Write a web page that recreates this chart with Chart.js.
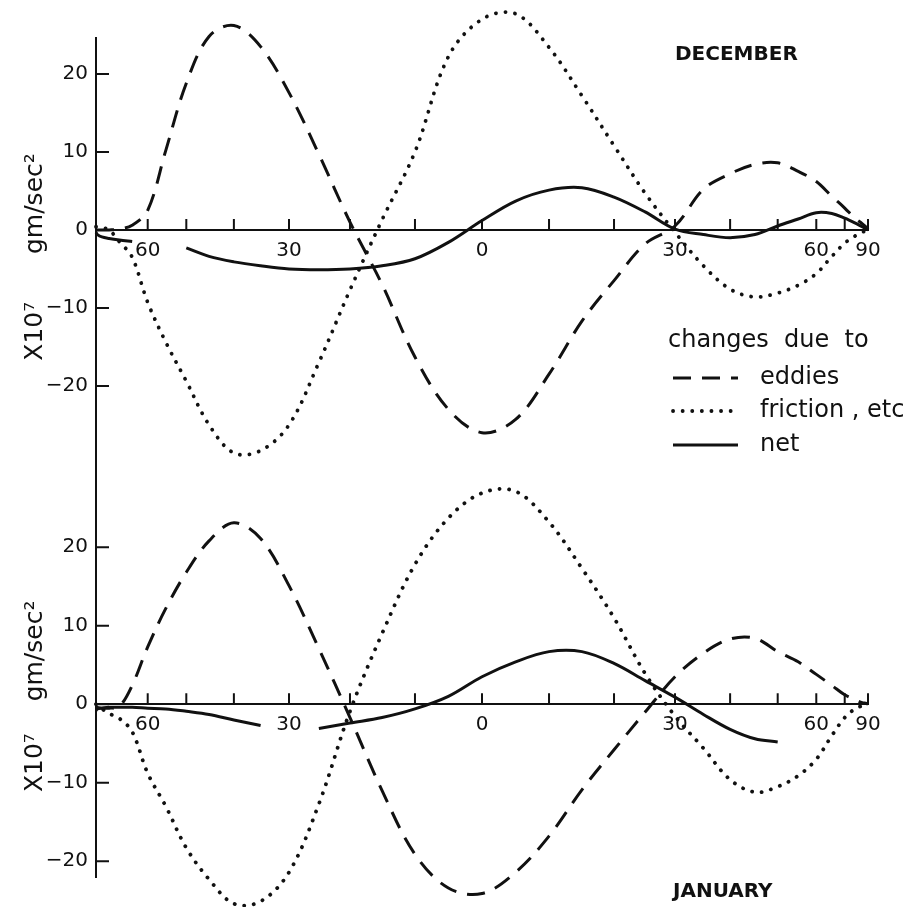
<!DOCTYPE html>
<html>
<head>
<meta charset="utf-8">
<script src="https://cdn.jsdelivr.net/npm/chart.js@4.4.1/dist/chart.umd.min.js"></script>
<style>
  body { margin: 0; background: #fff; }
  #wrap { position: relative; width: 915px; height: 907px; }
  canvas { position: absolute; left: 0; top: 0; }
</style>
</head>
<body>
<div id="wrap">
  <canvas id="decChart" width="915" height="907"></canvas>
  <canvas id="janChart" width="915" height="907"></canvas>
</div>
<script>
// latitude (deg), south negative
const lats = [-90,-85,-80,-75,-70,-65,-60,-55,-50,-45,-40,-35,-30,-25,-20,-15,-10,-5,0,
              5,10,15,20,25,30,35,40,45,50,55,60,65,70,75,80,85,90];

// December, x10^7 gm/sec^2
const decEddies = [0,0,0,0,0.1,0.6,2.5,10.2,18.8,24.8,26.2,23.5,17.6,9.7,1.0,-7,-16.3,-23,-26,
                   -24.3,-18.5,-11.7,-6.5,-1.8,0.5,5.2,7.2,8.4,8.6,7.5,6.2,4.3,2.8,1.5,0.8,0.3,0];
const decFriction = [0.4,0.4,0.3,0,-1.5,-3.5,-9.3,-14.4,-19.4,-25,-28.6,-28.3,-25,-17,-7.7,1.3,10,22.2,27,
                     27.7,23.4,17.2,10.8,4.7,-0.3,-4.6,-7.6,-8.6,-8.1,-7.1,-5.6,-3.4,-1.7,-0.8,-0.3,-0.1,0];
const decNet = [-0.3,-0.6,-0.9,-1.1,-1.3,-1.5,null,null,-2.3,-3.4,-4.1,-4.6,-5,-5.1,-5,-4.6,-3.7,-1.6,1.2,
                3.7,5.1,5.4,4.2,2.3,0.1,-0.6,-1.0,-0.6,0.5,1.4,2.2,2.1,1.5,0.9,0.4,0.1,0];

// January
const janEddies = [-0.3,-0.4,-0.5,-0.5,-0.3,2.4,7.3,12.2,16.8,20.8,23.1,21.1,15.1,7.1,-1.7,-11,-19.1,-23.4,-24.1,
                   -21.4,-16.8,-10.9,-5.8,-1,3.5,6.5,8.3,8.4,6.7,5.4,3.8,2.4,1.2,0.6,0.2,0.1,0];
const janFriction = [0,-0.3,-0.6,-1.2,-1.8,-3.5,-8.8,-13,-18.3,-22.3,-25.4,-25.1,-21.4,-12.7,-0.9,9,17.8,23.7,26.9,
                     27.1,23.2,17.3,11,3.9,-1.5,-5.6,-9.6,-11.2,-10.5,-9.1,-7,-4,-1.7,-0.6,-0.2,-0.1,0];
const janNet = [-0.8,-0.6,-0.5,-0.4,-0.4,-0.4,-0.5,-0.6,-0.9,-1.3,-2.0,-2.7,null,-3.1,-2.4,-1.7,-0.6,1.0,3.5,
                5.4,6.7,6.7,5.2,3.0,0.9,-1.3,-3.2,-4.4,-4.8,null,null,null,null,null,null,null,null];

const xTickLats = [-90,-60,-50,-40,-30,-20,-10,0,10,20,30,40,50,60,70,90];
const xLabelLats = [-60,-30,0,30,60,90];
const yTicks = [-20,-10,0,10,20];
const seriesNames = ["eddies", "friction , etc", "net"];

const ink = "#111";
Chart.defaults.font.family = "'DejaVu Sans', sans-serif";
Chart.defaults.color = ink;

// area-weighted axis: x is sin(latitude)
const toSin = l => Math.sin(l * Math.PI / 180);
const pts = arr => lats.map((l, i) => ({ x: toSin(l), y: arr[i] }));

const tickMarks = {
  id: "tickMarks",
  afterDraw(chart) {
    const { ctx, scales: { x, y } } = chart;
    const y0 = y.getPixelForValue(0);
    ctx.save();
    ctx.strokeStyle = ink;
    ctx.lineWidth = 2;
    ctx.beginPath();
    xTickLats.forEach(l => {
      if (l === -90) return;
      const px = x.getPixelForValue(toSin(l));
      ctx.moveTo(px, y0);
      ctx.lineTo(px, y0 - 11);
    });
    yTicks.forEach(v => {
      const py = y.getPixelForValue(v);
      ctx.moveTo(x.left, py);
      ctx.lineTo(x.left + 13, py);
    });
    ctx.stroke();
    ctx.restore();
  }
};

const panelLabel = {
  id: "panelLabel",
  afterDraw(chart, args, opts) {
    const ctx = chart.ctx;
    ctx.save();
    ctx.fillStyle = ink;
    ctx.font = "bold 20px 'DejaVu Sans'";
    ctx.textBaseline = "middle";
    ctx.fillText(opts.text, opts.x, opts.y);
    ctx.restore();
  }
};

const sideLegend = {
  id: "sideLegend",
  afterDraw(chart, args, opts) {
    if (!opts.show) return;
    const ctx = chart.ctx;
    ctx.save();
    ctx.fillStyle = ink;
    ctx.strokeStyle = ink;
    ctx.textBaseline = "middle";
    ctx.font = "24px 'DejaVu Sans'";
    ctx.fillText("changes  due  to", 668, 341);
    const rows = [378, 411, 445];
    chart.data.datasets.forEach((ds, i) => {
      const yy = rows[i];
      ctx.beginPath();
      ctx.lineWidth = ds.borderWidth;
      ctx.lineCap = ds.borderCapStyle || "butt";
      ctx.setLineDash(ds.borderDash || []);
      ctx.moveTo(673, yy);
      ctx.lineTo(738, yy);
      ctx.stroke();
      ctx.setLineDash([]);
      ctx.fillText(ds.label, 760, yy);
    });
    ctx.restore();
  }
};

function makeDatasets(e, f, n) {
  return [
    { label: seriesNames[0], data: pts(e), borderColor: ink, borderWidth: 3,
      borderDash: [18, 11], borderCapStyle: "butt" },
    { label: seriesNames[1], data: pts(f), borderColor: ink, borderWidth: 3.8,
      borderDash: [0.1, 9.5], borderCapStyle: "round" },
    { label: seriesNames[2], data: pts(n), borderColor: ink, borderWidth: 3 }
  ];
}

function makeChart(id, datasets, cfg) {
  return new Chart(document.getElementById(id), {
    type: "line",
    data: { datasets },
    options: {
      responsive: false,
      animation: false,
      layout: { padding: { left: 0, right: 47, top: cfg.top, bottom: cfg.bottom } },
      elements: { point: { radius: 0 }, line: { tension: 0.35 } },
      datasets: { line: { clip: false, fill: false } },
      plugins: {
        legend: { display: false },
        tooltip: { enabled: false },
        panelLabel: cfg.label,
        sideLegend: { show: cfg.legend }
      },
      scales: {
        x: {
          type: "linear",
          min: -1,
          max: 1,
          position: { y: 0 },
          grid: { display: false, drawTicks: false },
          border: { display: true, width: 2, color: ink },
          afterBuildTicks: s => { s.ticks = xTickLats.map(l => ({ value: toSin(l) })); },
          ticks: {
            autoSkip: false,
            maxRotation: 0,
            padding: 9,
            font: { size: 20 },
            callback: (v, i) => xLabelLats.includes(xTickLats[i]) ? String(Math.abs(xTickLats[i])) : ""
          }
        },
        y: {
          type: "linear",
          min: cfg.min,
          max: cfg.max,
          grid: { display: false, drawTicks: false },
          border: { display: true, width: 2, color: ink },
          afterFit: s => { s.width = 96; },
          afterBuildTicks: s => { s.ticks = yTicks.map(v => ({ value: v })); },
          ticks: {
            padding: 8,
            font: { size: 20 },
            callback: v => v < 0 ? "\u2212" + (-v) : String(v)
          },
          title: {
            display: true,
            text: cfg.title,
            font: { size: 25 },
            padding: { top: 20, bottom: 0 }
          }
        }
      }
    },
    plugins: [tickMarks, panelLabel, sideLegend]
  });
}

makeChart("decChart", makeDatasets(decEddies, decFriction, decNet), {
  top: 38, bottom: 447, min: -29.5, max: 24.6,
  title: "X10\u2077      gm/sec\u00B2  ",
  label: { text: "DECEMBER", x: 675, y: 55 },
  legend: true
});

makeChart("janChart", makeDatasets(janEddies, janFriction, janNet), {
  top: 460, bottom: 30, min: -22.0, max: 31.1,
  title: "X10\u2077    gm/sec\u00B2       ",
  label: { text: "JANUARY", x: 673, y: 892 },
  legend: false
});
</script>
</body>
</html>
